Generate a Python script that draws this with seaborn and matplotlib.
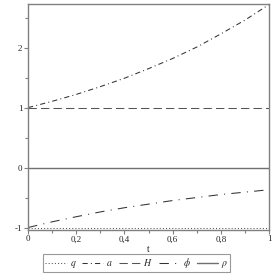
import numpy as np
import pandas as pd
import seaborn as sns
import matplotlib.pyplot as plt
from matplotlib.ticker import MultipleLocator

# values
t = [0.0, 0.1, 0.2, 0.3, 0.4, 0.5, 0.6, 0.7, 0.8, 0.9, 1.0]
q = [-1.0] * 11
a = [1.0, 1.105, 1.22, 1.35, 1.49, 1.65, 1.82, 2.01, 2.23, 2.46, 2.72]
H = [1.0] * 11
phi = [-1.0, -0.905, -0.82, -0.74, -0.67, -0.61, -0.55, -0.50, -0.45, -0.41, -0.37]
rho = [0.0] * 11
xtick_labels = ['0', '0,2', '0,4', '0,6', '0,8', '1']

sns.set_theme(style='white')
plt.rcParams['font.family'] = ['Liberation Serif', 'DejaVu Serif']
plt.rcParams['mathtext.fontset'] = 'stix'

fig = plt.figure(figsize=(2.78, 2.78), dpi=100)
ax = fig.add_axes([0.101, 0.173, 0.867, 0.813])

df = pd.DataFrame({'t': t, 'q': q, 'a': a, 'H': H, 'phi': phi, 'rho': rho})
lw = 0.75
col = '#555555'
sns.lineplot(data=df, x='t', y='q', ax=ax, color=col, lw=lw, linestyle=(0, (1, 2)), label='$q$')
sns.lineplot(data=df, x='t', y='a', ax=ax, color='#333333', lw=lw, linestyle=(0, (5, 3, 1, 3)), label='$a$')
sns.lineplot(data=df, x='t', y='H', ax=ax, color=col, lw=lw, linestyle=(0, (8, 4)), label='$H$')
sns.lineplot(data=df, x='t', y='phi', ax=ax, color='#333333', lw=lw, linestyle=(0, (9, 6, 1, 6)), label=r'$\phi$')
sns.lineplot(data=df, x='t', y='rho', ax=ax, color='#707070', lw=1.0, label=r'$\rho$')

ax.set_xlim(0, 1)
ax.set_ylim(-1.04, 2.73)
ax.set_xticks([0, 0.2, 0.4, 0.6, 0.8, 1.0])
ax.set_xticklabels(xtick_labels)
ax.set_yticks([-1, 0, 1, 2])
ax.set_yticklabels(['-1', '0', '1', '2'])
ax.xaxis.set_minor_locator(MultipleLocator(0.1))
ax.yaxis.set_minor_locator(MultipleLocator(0.5))
ax.tick_params(which='both', direction='out', color='#808080', width=0.8,
               labelsize=6.5, pad=1, bottom=True, left=True)
ax.tick_params(which='major', length=3)
ax.tick_params(which='minor', length=2)
for s in ax.spines.values():
    s.set_color('#808080')
    s.set_linewidth(1.0)

ax.set_xlabel('t', fontsize=7, labelpad=1)
ax.set_ylabel('')

leg = ax.legend(loc='upper center', bbox_to_anchor=(0.45, -0.085), ncol=5,
                fontsize=7, frameon=True, fancybox=False, handlelength=2.2,
                columnspacing=0.6, handletextpad=0.3, borderpad=0.2)
leg.get_frame().set_edgecolor('#808080')
leg.get_frame().set_linewidth(0.8)

fig.savefig('out.png', dpi=100)
